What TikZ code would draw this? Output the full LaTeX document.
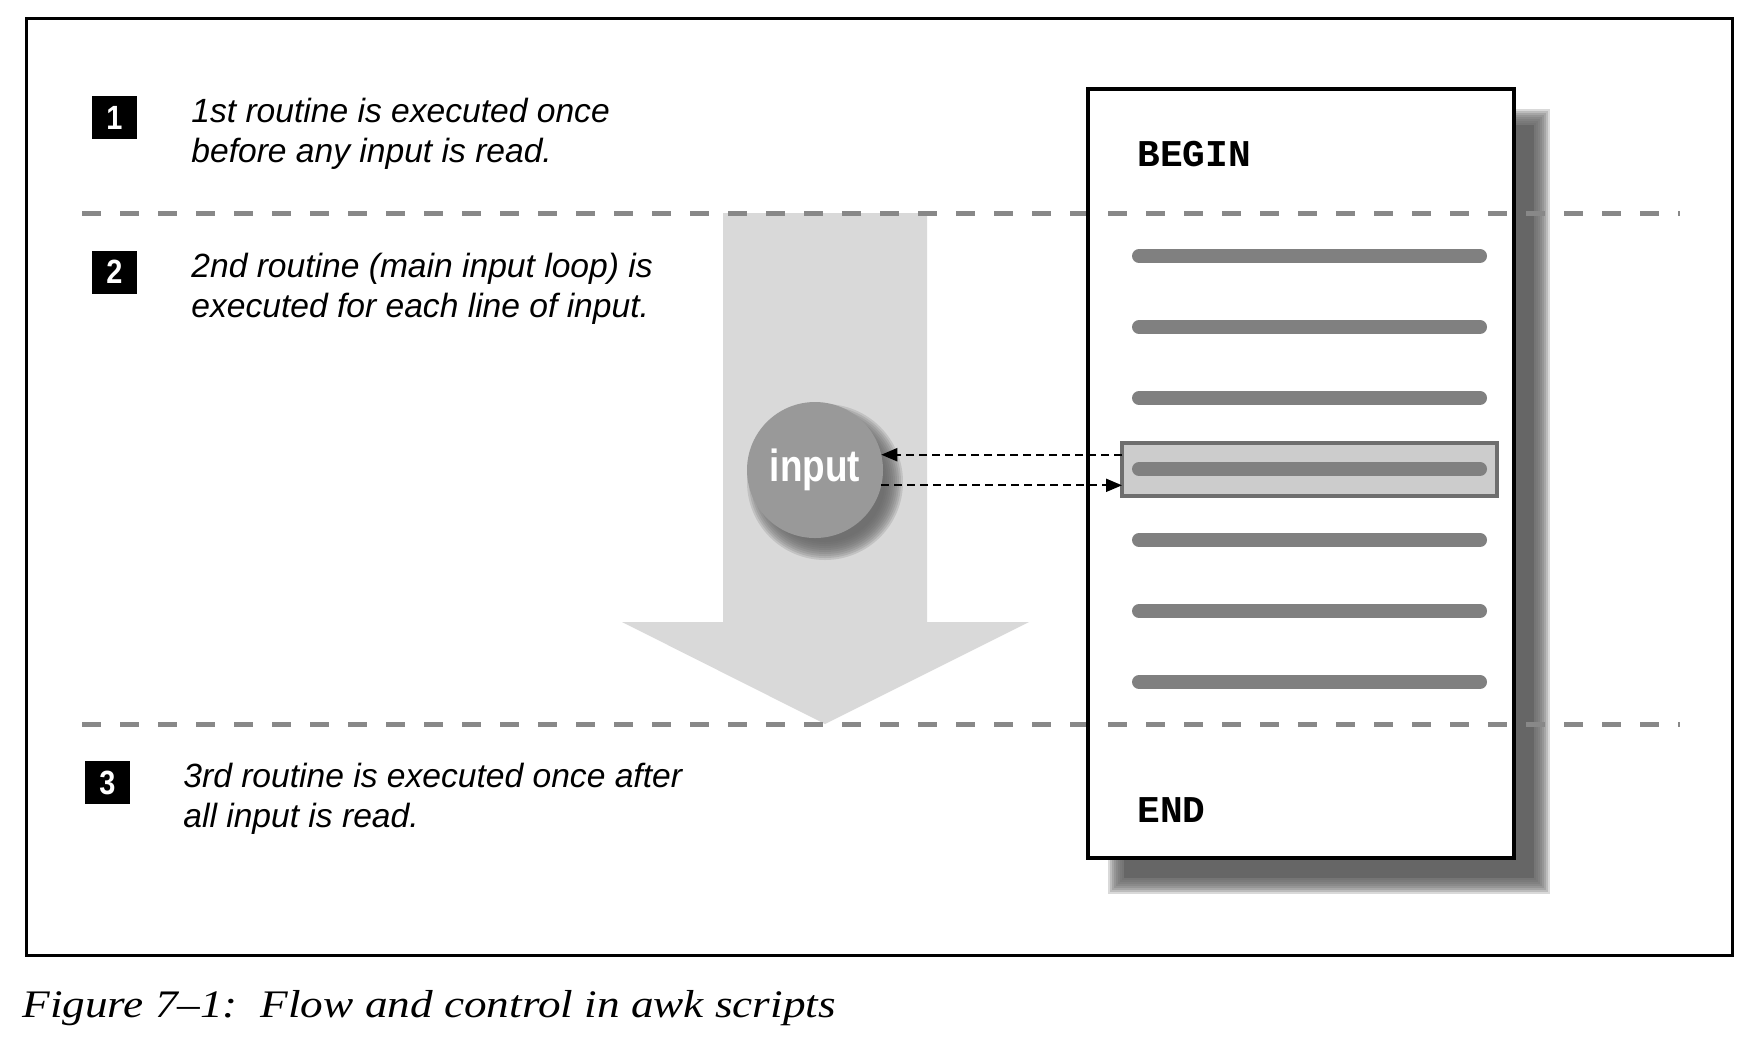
\documentclass[tikz,border=0pt]{standalone}
\usepackage{fontspec}
\usetikzlibrary{arrows.meta,calc}
\newfontfamily\bodyfont{Liberation Sans}
\newfontfamily\numfont[FakeStretch=0.86]{Liberation Sans}
\newfontfamily\inpfont[FakeStretch=0.82]{Liberation Sans}
\newfontfamily\codefont{Liberation Mono}
\newfontfamily\capfont[FakeStretch=1.16]{Liberation Serif}
\definecolor{sepgray}{RGB}{136,136,136}
\definecolor{arrowgray}{RGB}{217,217,217}
\definecolor{shadowc}{RGB}{102,102,102}
\definecolor{linegray}{RGB}{128,128,128}
\definecolor{hlfill}{RGB}{204,204,204}
\definecolor{hlborder}{RGB}{110,110,110}
\definecolor{circfill}{RGB}{153,153,153}
\tikzset{
  frame/.style={draw=black, line width=1.5pt},
  sepline/.style={draw=sepgray, line width=2.5pt, dash pattern=on 9.5pt off 9.5pt},
  docbox/.style={rectangle, fill=white, inner sep=0pt, outer sep=0pt, minimum width=213pt, minimum height=384.5pt},
  docline/.style={draw=linegray, line width=7pt, line cap=round},
  hlbox/.style={rectangle, draw=hlborder, fill=hlfill, line width=2pt, inner sep=0pt, outer sep=0pt, minimum width=187.5pt, minimum height=26.5pt},
  numbox/.style={rectangle, fill=black, text=white, inner sep=0pt, outer sep=0pt, minimum width=22.5pt, minimum height=21.5pt, font=\numfont\bfseries\fontsize{16.8pt}{18pt}\selectfont},
  txt/.style={anchor=base west, align=left, inner sep=0pt, font=\bodyfont\itshape\fontsize{16.8pt}{19.8pt}\selectfont},
  code/.style={anchor=base west, inner sep=0pt, font=\codefont\bfseries\fontsize{18.9pt}{20pt}\selectfont},
  inpcircle/.style={circle, fill=circfill, text=white, inner sep=0pt, outer sep=0pt, minimum size=68pt, font=\inpfont\bfseries\fontsize{22.5pt}{24pt}\selectfont},
  darrow/.style={draw=black, line width=1pt, dash pattern=on 4pt off 2.5pt, arrows={-Triangle[length=8pt,width=6.5pt]}},
  captxt/.style={anchor=base west, inner sep=0pt, font=\capfont\itshape\fontsize{19.5pt}{22pt}\selectfont}
}
\begin{document}
\begin{tikzpicture}[x=0.5pt,y=-0.5pt]
\useasboundingbox (0,0) rectangle (1759,1046);
% outer frame
\draw[frame] (26,18) rectangle (1732,955);
% big flow arrow
\fill[arrowgray] (723,213) -- (927,213) -- (927,622) -- (1029,622) -- (825,724) -- (622,622) -- (723,622) -- cycle;
% document shadow
\foreach \r in {8,6,...,-8}
  \fill[shadowc, fill opacity=0.25] ({1116-\r},{117-\r}) rectangle ({1542+\r},{886+\r});
\fill[shadowc] (1124,125) rectangle (1534,878);
% document
\node[docbox] (doc) at (1301,473.5) {};
% separators
\draw[sepline] (82,213) -- (1680,213);
\draw[sepline] (82,724) -- (1680,724);
\draw[line width=2.25pt] (doc.north west) rectangle (doc.south east);
% lines of the script
\node[hlbox] (hl) at (1309.5,469.5) {};
\foreach \yy in {256,327,398,469,540,611,682}
  \draw[docline] (1139,\yy) -- (1480,\yy);
\node[code] (begin) at (1137,166) {BEGIN};
\node[code] (end) at (1137,822) {END};
% input circle
\foreach \r in {10,8,...,-8}
  \fill[shadowc, fill opacity=0.2] (825,482) circle[radius={0.5pt*(68+\r)}];
\node[inpcircle] (inp) at (815,470) {input};
\draw[darrow] (inp.13.6 -| hl.west) -- (inp.13.6);
\draw[darrow] (inp.-13.6) -- (inp.-13.6 -| hl.west);
% numbered notes
\node[numbox] (n1) at (114.5,117.5) {1};
\node[numbox] (n2) at (114.5,272) {2};
\node[numbox] (n3) at (107.5,782.5) {3};
\node[txt] (t1) at (191,162) {1st routine is executed once\\before any input is read.};
\node[txt] (t2) at (191,317) {2nd routine (main input loop) is\\executed for each line of input.};
\node[txt] (t3) at (183,827) {3rd routine is executed once after\\all input is read.};
% caption
\node[captxt] (cap) at (22,1017) {Figure 7–1:\ \ Flow and control in awk scripts};
\end{tikzpicture}
\end{document}
